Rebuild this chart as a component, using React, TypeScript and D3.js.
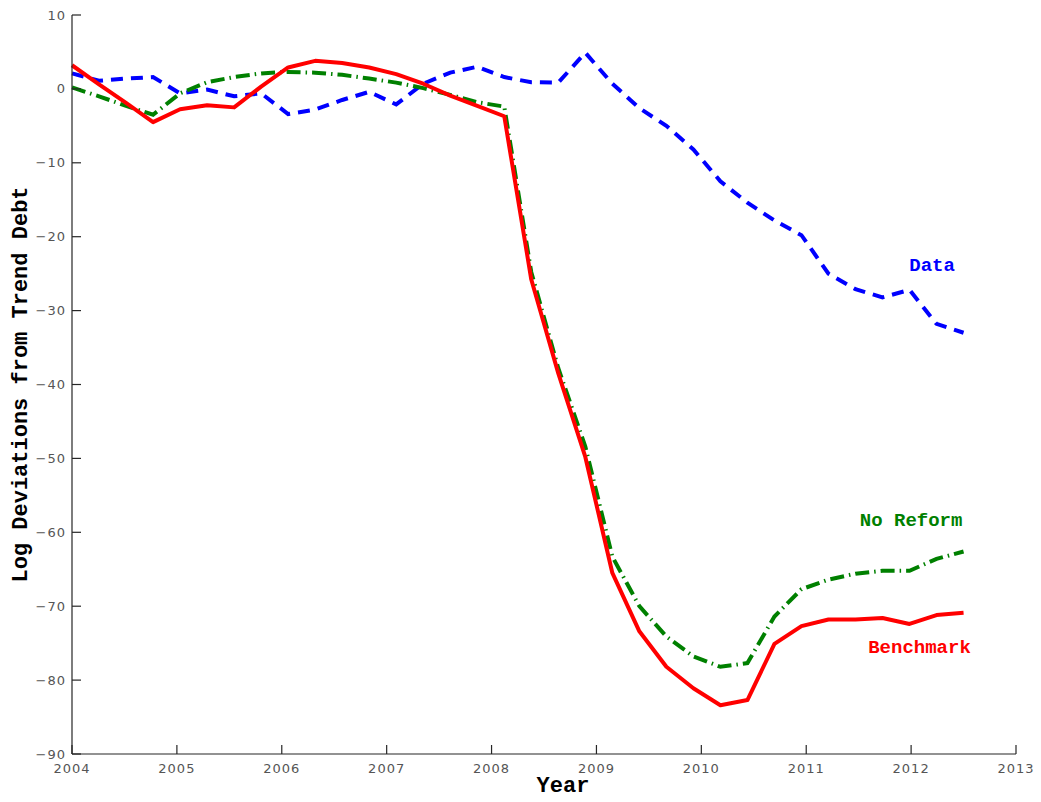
import React from "react";
import * as d3 from "d3";

const N = 34;
const years: number[] = d3.range(N).map((i) => 2004 + (i * 8.5) / 33);

const benchmark: number[] = [
  3.2, 0.6, -1.9, -4.5, -2.75, -2.2, -2.5, 0.3, 2.9, 3.8,
  3.5, 2.9, 2.0, 0.7, -0.9, -2.3, -3.7, -25.8, -38.5, -49.8,
  -65.5, -73.4, -78.2, -81.1, -83.4, -82.7, -75.1, -72.7, -71.8, -71.8,
  -71.6, -72.4, -71.2, -70.9,
];
const noReform: number[] = [
  0.2, -1.0, -2.3, -3.5, -0.6, 0.9, 1.6, 2.1, 2.3, 2.2,
  1.9, 1.4, 0.85, 0.1, -0.8, -1.8, -2.4, -24.8, -37.8, -48.4,
  -63.3, -70.0, -74.1, -76.8, -78.2, -77.7, -71.4, -67.7, -66.4, -65.6,
  -65.2, -65.2, -63.6, -62.6,
];
const dataSeries: number[] = [
  2.1, 1.1, 1.4, 1.6, -0.6, -0.1, -1.0, -0.6, -3.4, -2.8,
  -1.5, -0.4, -2.1, 0.7, 2.2, 3.0, 1.6, 0.9, 0.85, 4.9,
  0.7, -2.6, -5.0, -8.2, -12.5, -15.4, -17.8, -19.8, -25.0, -27.1,
  -28.2, -27.2, -31.8, -33.0,
];

const xTicks: number[] = d3.range(2004, 2014);
const yTicks: number[] = d3.range(-90, 11, 10);

const annotations = [
  { text: "Data", x: 2012.2, y: -24.6, color: "#0000ff" },
  { text: "No Reform", x: 2012.0, y: -59.1, color: "#008000" },
  { text: "Benchmark", x: 2012.08, y: -76.3, color: "#ff0000" },
];

const W = 1041;
const H = 802;
const left = 72;
const right = 1016;
const top = 15;
const bottom = 754;

export default function App() {
  const x = d3.scaleLinear().domain([2004, 2013]).range([left, right]);
  const y = d3.scaleLinear().domain([-90, 10]).range([bottom, top]);

  const line = d3
    .line<number>()
    .x((_, i) => x(years[i]))
    .y((d) => y(d));

  const tickFont = "'DejaVu Sans', sans-serif";
  const monoFont = "'Liberation Mono', 'Courier New', monospace";

  return (
    <svg
      width={W}
      height={H}
      style={{ position: "absolute", left: 0, top: 0, background: "#fff" }}
    >
      <rect x={0} y={0} width={W} height={H} fill="#fff" />
      <path
        d={line(dataSeries) || ""}
        fill="none"
        stroke="#0000ff"
        strokeWidth={4}
        strokeDasharray="12,8"
      />
      <path
        d={line(noReform) || ""}
        fill="none"
        stroke="#008000"
        strokeWidth={4}
        strokeDasharray="14,5,1.5,5"
      />
      <path
        d={line(benchmark) || ""}
        fill="none"
        stroke="#ff0000"
        strokeWidth={4}
        strokeLinejoin="round"
      />
      <line x1={left} x2={left} y1={top} y2={bottom} stroke="#262626" strokeWidth={1.2} />
      <line x1={left} x2={right} y1={bottom} y2={bottom} stroke="#262626" strokeWidth={1.2} />
      {yTicks.map((t) => (
        <g key={"y" + t}>
          <line x1={left} x2={left + 9} y1={y(t)} y2={y(t)} stroke="#262626" strokeWidth={1.2} />
          <text
            x={left - 6}
            y={y(t)}
            dy="0.35em"
            textAnchor="end"
            fontFamily={tickFont}
            fontSize={13}
            letterSpacing={1}
            fill="#555"
          >
            {t < 0 ? "\u2212" + Math.abs(t) : String(t)}
          </text>
        </g>
      ))}
      {xTicks.map((t) => (
        <g key={"x" + t}>
          <line x1={x(t)} x2={x(t)} y1={bottom} y2={bottom - 9} stroke="#262626" strokeWidth={1.2} />
          <text
            x={x(t)}
            y={bottom + 19}
            textAnchor="middle"
            fontFamily={tickFont}
            fontSize={13}
            letterSpacing={1}
            fill="#555"
          >
            {t}
          </text>
        </g>
      ))}
      <text
        x={563}
        y={792}
        textAnchor="middle"
        fontFamily={monoFont}
        fontWeight="bold"
        fontSize={22}
        fill="#000"
      >
        Year
      </text>
      <text
        transform={`translate(27,${(top + bottom) / 2}) rotate(-90)`}
        textAnchor="middle"
        fontFamily={monoFont}
        fontWeight="bold"
        fontSize={22}
        fill="#000"
      >
        Log Deviations from Trend Debt
      </text>
      {annotations.map((a) => (
        <text
          key={a.text}
          x={x(a.x)}
          y={y(a.y)}
          textAnchor="middle"
          fontFamily={monoFont}
          fontWeight="bold"
          fontSize={19}
          fill={a.color}
        >
          {a.text}
        </text>
      ))}
    </svg>
  );
}
